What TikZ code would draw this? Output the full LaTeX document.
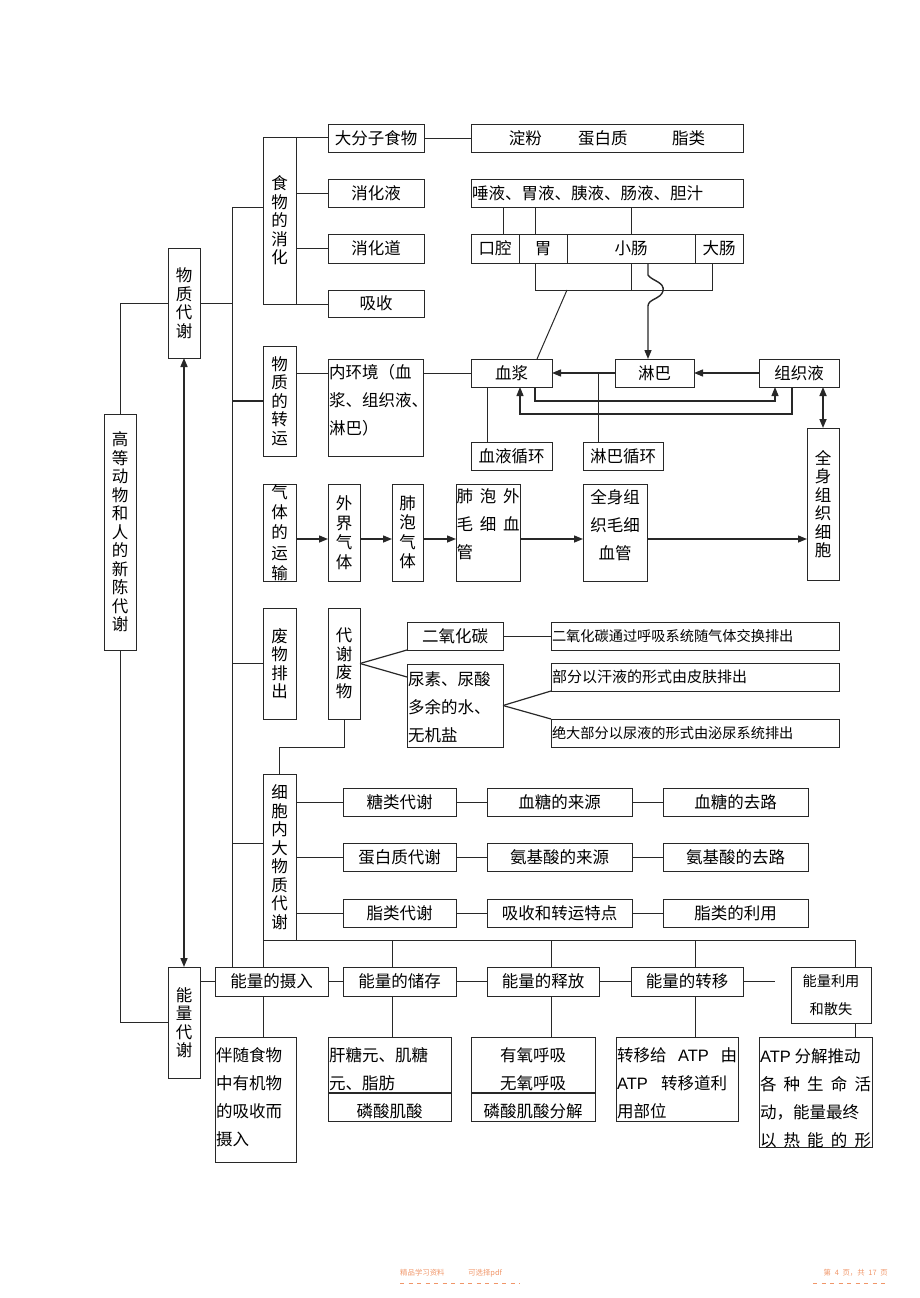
\documentclass[tikz,border=0pt]{standalone}
\usepackage{fontspec}
\setmainfont{Noto Sans CJK SC}
\newfontfamily\latinf{Liberation Sans}
\usetikzlibrary{arrows.meta}
\definecolor{lc}{RGB}{40,40,40}
\definecolor{footc}{RGB}{240,150,105}
\newcommand\bx[7][]{\node[box,minimum width={#5pt-#3pt},minimum height={#6pt-#4pt},#1] (#2) at ({(#3+#5)/2},{(#4+#6)/2}) {#7};}
\newcommand\tp[4]{\parbox[c][#2pt][t]{#1pt}{\vspace*{#3pt}\strut #4}}
\tikzset{
 box/.style={draw=lc, line width=0.8pt, inner sep=0pt, outer sep=0pt, font=\fontsize{16.5}{28}\selectfont},
 vbox/.style={align=center, font=\fontsize{16.5}{18.5}\selectfont},
 small/.style={font=\fontsize{14.2}{18}\selectfont},
 ln/.style={draw=lc, line width=0.8pt},
 arr/.style={draw=lc, line width=1.4pt, -{Triangle[length=9pt,width=7pt]}},
 darr/.style={draw=lc, line width=1.6pt, {Triangle[length=9pt,width=7pt]}-{Triangle[length=9pt,width=7pt]}},
 foot/.style={text=footc, inner sep=0pt, font=\fontsize{7.4}{9}\selectfont},
 footdash/.style={draw=footc, line width=0.6pt, dash pattern=on 4pt off 4.5pt},
}
\begin{document}
\begin{tikzpicture}[x=1pt,y=-1pt]
\path[use as bounding box] (0,0) rectangle (920,1298);
% ---------- main tree ----------
\bx[vbox]{root}{104}{414}{136}{650}{高\\等\\动\\物\\和\\人\\的\\新\\陈\\代\\谢}
\bx[vbox]{wz}{168}{248}{200}{358}{物\\质\\代\\谢}
\bx[vbox]{nl}{168}{967}{200}{1078}{能\\量\\代\\谢}
% ---------- food digestion ----------
\bx[vbox]{swxh}{263}{137}{296}{304}{食\\物\\的\\消\\化}
\bx{dfz}{328}{124}{424}{152}{大分子食物}
\bx{xhy}{328}{179}{424}{207}{消化液}
\bx{xhd}{328}{234}{424}{263}{消化道}
\bx{xs}{328}{290}{424}{317}{吸收}
\bx{df}{471}{124}{743}{152}{淀粉\hspace{2.2em}蛋白质\hspace{2.7em}脂类}
\bx{ty}{471}{179}{743}{207}{\makebox[270pt][l]{唾液、胃液、胰液、肠液、胆汁}}
\bx{kq}{471}{234}{519}{263}{口腔}
\bx{wei}{519}{234}{567}{263}{胃}
\bx{xc}{567}{234}{695}{263}{小肠}
\bx{dc}{695}{234}{743}{263}{大肠}
% ---------- transport ----------
\bx[vbox]{wzzy}{263}{346}{296}{456}{物\\质\\的\\转\\运}
\bx{nhj}{328}{359}{423}{456}{\tp{93}{97}{0}{内环境（血\\浆、组织液、\\淋巴）}}
\bx{xj}{471}{359}{552}{387}{血浆}
\bx{lb}{615}{359}{694}{387}{淋巴}
\bx{zzy}{759}{359}{839}{387}{组织液}
\bx{xyxh}{471}{442}{552}{470}{血液循环}
\bx{lbxh}{583}{442}{663}{470}{淋巴循环}
\bx[vbox]{qszz}{807}{428}{839}{580}{全\\身\\组\\织\\细\\胞}
% ---------- gas ----------
\bx[vbox,font=\fontsize{16.5}{20.4}\selectfont]{qtys}{263}{484}{296}{581}{气\\体\\的\\运\\输}
\bx[vbox,font=\fontsize{16.5}{19.5}\selectfont]{wjqt}{328}{484}{360}{581}{外\\界\\气\\体}
\bx[vbox,font=\fontsize{16.5}{19.5}\selectfont]{fpqt}{392}{484}{423}{581}{肺\\泡\\气\\体}
\bx{fpwmx}{456}{484}{520}{581}{\tp{63}{97}{-1}{\hbox to\linewidth{肺\hfill 泡\hfill 外}\\\hbox to\linewidth{毛\hfill 细\hfill 血}\\管}}
\bx{qsmx}{583}{484}{647}{581}{\tp{63}{97}{0}{\centering 全身组\\织毛细\\血管}}
% ---------- waste ----------
\bx[vbox]{fwpc}{263}{608}{296}{719}{废\\物\\排\\出}
\bx[vbox]{dxfw}{328}{608}{360}{719}{代\\谢\\废\\物}
\bx{eyht}{407}{622}{503}{650}{二氧化碳}
\bx{ns}{407}{664}{503}{747}{\tp{94}{83}{1.4}{尿素、尿酸\\多余的水、\\无机盐}}
\bx[small]{eyhtt}{551}{622}{839}{650}{\makebox[286pt][l]{二氧化碳通过呼吸系统随气体交换排出}}
\bx[font=\fontsize{15}{18}\selectfont]{hy}{551}{663}{839}{691}{\makebox[286pt][l]{部分以汗液的形式由皮肤排出}}
\bx[small]{ny}{551}{719}{839}{747}{\makebox[286pt][l]{绝大部分以尿液的形式由泌尿系统排出}}
% ---------- cell metabolism ----------
\bx[vbox]{xbn}{263}{774}{296}{940}{细\\胞\\内\\大\\物\\质\\代\\谢}
\bx{tl}{343}{788}{456}{816}{糖类代谢}
\bx{xtly}{487}{788}{632}{816}{血糖的来源}
\bx{xtql}{663}{788}{808}{816}{血糖的去路}
\bx{dbz}{343}{843}{456}{871}{蛋白质代谢}
\bx{ajly}{487}{843}{632}{871}{氨基酸的来源}
\bx{ajql}{663}{843}{808}{871}{氨基酸的去路}
\bx{zl}{343}{899}{456}{927}{脂类代谢}
\bx{xszy}{487}{899}{632}{927}{吸收和转运特点}
\bx{zlly}{663}{899}{808}{927}{脂类的利用}
% ---------- energy ----------
\bx{sr}{215}{967}{328}{996}{能量的摄入}
\bx{cc}{343}{967}{456}{996}{能量的储存}
\bx{sf}{487}{967}{599}{996}{能量的释放}
\bx{zy}{631}{967}{743}{996}{能量的转移}
\bx[font=\fontsize{14.2}{28}\selectfont,align=center]{ly}{791}{967}{871}{1023}{能量利用\\和散失}
\bx{bs}{215}{1037}{296}{1162}{\tp{79}{125}{4.4}{伴随食物\\中有机物\\的吸收而\\摄入}}
\bx{gty}{328}{1037}{451}{1121}{\tp{121}{84}{4.4}{肝糖元、肌糖\\元、脂肪\\\hbox to\linewidth{\hfill 磷酸肌酸\hfill}}}
\bx{yy}{471}{1037}{595}{1121}{\tp{120}{84}{4.4}{\centering 有氧呼吸\\无氧呼吸\\磷酸肌酸分解}}
\bx{zyg}{616}{1037}{738}{1121}{\tp{120}{84}{4.4}{\hbox to\linewidth{转移给\hfill{\latinf ATP}\hfill 由}\\{\latinf ATP}\hspace{0.8em}转移道利\\用部位}}
\bx{atp}{759}{1037}{872}{1147}{\tp{111}{110}{5.8}{{\latinf ATP} 分解推动\\\hbox to\linewidth{各\hfill 种\hfill 生\hfill 命\hfill 活}\\动，能量最终\\\hbox to\linewidth{以\hfill 热\hfill 能\hfill 的\hfill 形}}}
% ================= connectors =================
\draw[ln] (root.north) |- (wz.west);
\draw[ln] (root.south) |- (nl.west);
\draw[darr] (wz.south) -- (nl.north);
\coordinate (b1) at (232,207);
\draw[ln] (swxh.west |- b1) -- (b1) -- (b1 |- sr.north);
\draw[ln] (wz.east) -- (wz.east -| b1);
\draw[ln, line width=1.4pt] (b1 |- wzzy.west) -- (wzzy.west);
\draw[ln] (b1 |- fwpc.west) -- (fwpc.west);
\coordinate (c1) at (232,843);
\draw[ln] (c1) -- (c1 -| xbn.west);
% food
\draw[ln] (swxh.north east) -- (swxh.north east -| dfz.west);
\draw[ln] (swxh.east |- xhy.west) -- (xhy.west);
\draw[ln] (swxh.east |- xhd.west) -- (xhd.west);
\draw[ln] (swxh.south east) -- (swxh.south east -| xs.west);
\draw[ln] (dfz.east) -- (df.west);
\coordinate (t1) at (503,207);
\coordinate (t2) at (535,207);
\coordinate (t3) at (631,207);
\draw[ln] (t1) -- (t1 |- kq.north);
\draw[ln] (t2) -- (t2 |- wei.north);
\draw[ln] (t3) -- (t3 |- xc.north);
\coordinate (k1) at (535,290);
\coordinate (k2) at (631,290);
\coordinate (k3) at (712,290);
\coordinate (k4) at (567,290);
\coordinate (k5) at (537,359);
\draw[ln] (k1 |- wei.south) -- (k1) -- (k3) -- (k3 |- dc.south);
\draw[ln] (k2 |- xc.south) -- (k2);
\draw[ln, line width=1pt] (k4) -- (k5);
\coordinate (wv) at (648,275);
\draw[arr] (wv |- xc.south) -- (wv) .. controls (652,281) and (665,282) .. (663,291) .. controls (661,299) and (648,299) .. (648,306) -- (wv |- lb.north);
% transport
\draw[ln] (wzzy.east |- xj.west) -- (nhj.west |- xj.west);
\draw[ln] (nhj.east |- xj.west) -- (xj.west);
\draw[arr] (lb.west) -- (xj.east);
\draw[arr] (zzy.west) -- (lb.east);
\coordinate (lx) at (598,373);
\draw[ln] (lbxh.north -| lx) -- (lx);
\coordinate (bx1) at (487,387);
\draw[ln] (bx1) -- (bx1 |- xyxh.north);
\coordinate (la) at (535,401);
\coordinate (lb2) at (775,401);
\coordinate (lc2) at (792,414);
\coordinate (ld) at (520,414);
\draw[arr, line width=1.2pt] (la |- xj.south) -- (la) -- (lb2) -- (lb2 |- zzy.south);
\draw[arr, line width=1.2pt] (lc2 |- zzy.south) -- (lc2) -- (ld) -- (ld |- xj.south);
\draw[darr] (zzy.south -| qszz.north) -- (qszz.north);
% gas
\coordinate (g) at (300,539);
\draw[arr] (qtys.east |- g) -- (wjqt.west |- g);
\draw[arr] (wjqt.east |- g) -- (fpqt.west |- g);
\draw[arr] (fpqt.east |- g) -- (fpwmx.west |- g);
\draw[arr] (fpwmx.east |- g) -- (qsmx.west |- g);
\draw[arr] (qsmx.east |- g) -- (qszz.west |- g);
% waste
\coordinate (nsa) at (407,677);
\draw[ln, line width=1.2pt] (dxfw.east) -- (eyht.south west);
\draw[ln, line width=1.2pt] (dxfw.east) -- (nsa);
\draw[ln] (eyht.east) -- (eyhtt.west);
\draw[ln, line width=1.2pt] (ns.east) -- (hy.south west);
\draw[ln, line width=1.2pt] (ns.east) -- (ny.north west);
\coordinate (wd) at (279,747);
\draw[ln] (dxfw.south) |- (wd) -- (wd |- xbn.north);
% cell metabolism
\draw[ln] (xbn.east |- tl.west) -- (tl.west);
\draw[ln] (tl.east) -- (xtly.west);
\draw[ln] (xtly.east) -- (xtql.west);
\draw[ln] (xbn.east |- dbz.west) -- (dbz.west);
\draw[ln] (dbz.east) -- (ajly.west);
\draw[ln] (ajly.east) -- (ajql.west);
\draw[ln] (xbn.east |- zl.west) -- (zl.west);
\draw[ln] (zl.east) -- (xszy.west);
\draw[ln] (xszy.east) -- (zlly.west);
% energy bus
\coordinate (e1) at (263,940);
\coordinate (e2) at (392,940);
\coordinate (e3) at (551.7,940);
\coordinate (e4) at (695,940);
\coordinate (e5) at (855,940);
\draw[ln] (e1) -- (e5) -- (e5 |- ly.north);
\draw[ln] (e1) -- (e1 |- sr.north);
\draw[ln] (e2) -- (e2 |- cc.north);
\draw[ln] (e3) -- (e3 |- sf.north);
\draw[ln] (e4) -- (e4 |- zy.north);
\draw[ln] (nl.east |- sr.west) -- (sr.west);
\draw[ln] (sr.east) -- (cc.west);
\draw[ln] (cc.east) -- (sf.west);
\draw[ln] (sf.east) -- (zy.west);
\coordinate (ze) at (775,981.5);
\draw[ln] (zy.east) -- (ze);
\draw[ln] (e1 |- sr.south) -- (e1 |- bs.north);
\draw[ln] (e2 |- cc.south) -- (e2 |- gty.north);
\draw[ln] (e3 |- sf.south) -- (e3 |- yy.north);
\draw[ln] (e4 |- zy.south) -- (e4 |- zyg.north);
\draw[ln] (e5 |- ly.south) -- (e5 |- atp.north);
\coordinate (dv) at (400,1093);
\draw[ln, line width=2pt] (gty.west |- dv) -- (gty.east |- dv);
\draw[ln, line width=2pt] (yy.west |- dv) -- (yy.east |- dv);
% footer
\node[foot, anchor=west] (f1) at (400,1273) {精品学习资料\hspace{3.2em}可选择pdf};
\node[foot, anchor=east] (f2) at (888,1273) {第\hspace{0.5em}4\hspace{0.5em}页，共\hspace{0.5em}17\hspace{0.5em}页};
\coordinate (fd1) at (400,1283);
\coordinate (fd2) at (520,1283);
\coordinate (fd3) at (813,1283);
\coordinate (fd4) at (888,1283);
\draw[footdash] (fd1) -- (fd2);
\draw[footdash] (fd3) -- (fd4);
\end{tikzpicture}
\end{document}
